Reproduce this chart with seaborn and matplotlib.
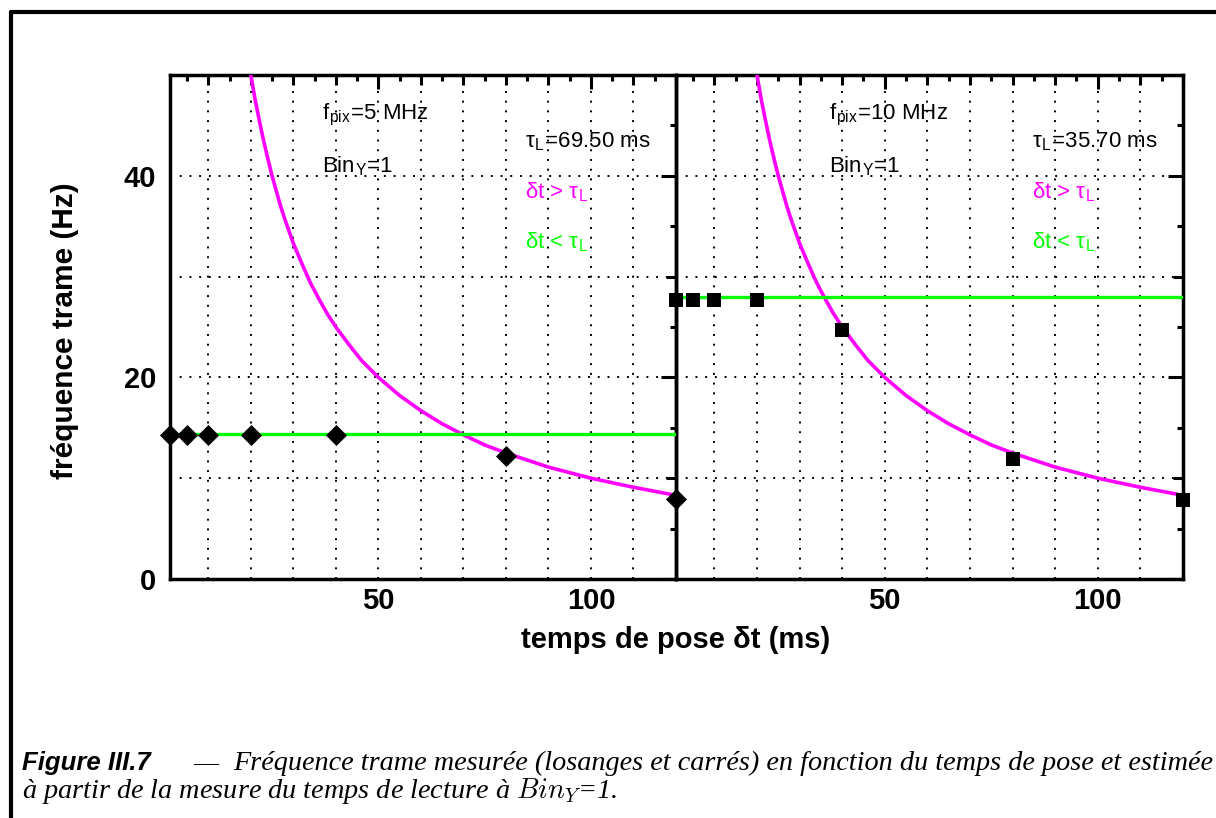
import matplotlib
matplotlib.use("Agg")
import matplotlib.pyplot as plt
from matplotlib.ticker import MultipleLocator, FuncFormatter
from matplotlib.lines import Line2D
import pandas as pd
import seaborn as sns

pose_ms = [1, 5, 10, 20, 40, 80, 120]
freq_5mhz = [14.3, 14.3, 14.3, 14.3, 14.3, 12.2, 7.9]    # diamonds
freq_10mhz = [27.7, 27.7, 27.7, 27.7, 24.7, 11.9, 7.8]   # squares

# Estimated rate for dt > tau_L (magenta curve).
curve_ms = [20, 21, 22, 23, 24, 25, 26, 27, 28, 30, 32, 34, 36, 38, 40, 43, 46, 50,
            55, 60, 65, 70, 75, 80, 90, 100, 110, 120]
curve_hz = [50.0, 47.6, 45.5, 43.5, 41.7, 40.0, 38.5, 37.0, 35.7, 33.3, 31.3, 29.4, 27.8,
            26.3, 25.0, 23.3, 21.7, 20.0, 18.2, 16.7, 15.4, 14.3, 13.3, 12.5, 11.1, 10.0,
            9.1, 8.3]

# Plateau for dt < tau_L (green line).
plateau_ms = [1, 120]
plateau_5mhz = [14.4, 14.4]
plateau_10mhz = [28.0, 28.0]

fpix_labels = ["5", "10"]
tau_labels = ["69.50", "35.70"]

sns.set_theme(style="white")
plt.rcParams["font.family"] = ["Liberation Sans", "DejaVu Sans"]
plt.rcParams["mathtext.fontset"] = "cm"
for key in ["text.color", "axes.labelcolor", "xtick.color", "ytick.color", "axes.edgecolor"]:
    plt.rcParams[key] = "black"

MAGENTA = "#ff00ff"
GREEN = "#00ff00"

fig = plt.figure(figsize=(12.16, 8.18), dpi=100)
W, H = 1216, 818
bottom = 1 - 579 / H
height = (579 - 75) / H
ax1 = fig.add_axes([170 / W, bottom, (676 - 170) / W, height])
ax2 = fig.add_axes([676 / W, bottom, (1183 - 676) / W, height], sharey=ax1)

panels = [
    (ax1, freq_5mhz, plateau_5mhz, "D", 115),
    (ax2, freq_10mhz, plateau_10mhz, "s", 100),
]

for i, (ax, meas, plateau, mk, ms) in enumerate(panels):
    sns.lineplot(x=curve_ms, y=curve_hz, ax=ax, color=MAGENTA, linewidth=2.6, zorder=3)
    sns.lineplot(x=plateau_ms, y=plateau, ax=ax, color=GREEN, linewidth=2.4, zorder=3)
    df = pd.DataFrame({"pose": pose_ms, "freq": meas})
    sns.scatterplot(data=df, x="pose", y="freq", ax=ax, marker=mk, s=ms,
                    color="black", linewidth=0, zorder=5, clip_on=False)

    ax.set_xlim(1, 120)
    ax.set_ylim(0, 50)
    ax.set_xlabel("")
    ax.set_ylabel("")
    ax.xaxis.set_major_locator(MultipleLocator(10))
    ax.xaxis.set_minor_locator(MultipleLocator(5))
    ax.yaxis.set_major_locator(MultipleLocator(10))
    ax.yaxis.set_minor_locator(MultipleLocator(5))
    ax.xaxis.set_major_formatter(FuncFormatter(lambda v, p: f"{v:.0f}" if v % 50 == 0 and v > 0 else ""))
    ax.yaxis.set_major_formatter(FuncFormatter(lambda v, p: f"{v:.0f}" if v % 20 == 0 else ""))
    ax.grid(True, which="major", color="black", linestyle=(0, (1, 4)), linewidth=1.4)
    ax.tick_params(which="both", direction="in", top=True, right=True, width=2.2,
                   labelsize=21)
    ax.tick_params(axis="x", pad=6)
    ax.tick_params(axis="y", pad=10)
    ax.tick_params(which="major", length=7)
    ax.tick_params(which="minor", length=4.5)
    for lab in ax.get_xticklabels() + ax.get_yticklabels():
        lab.set_fontweight("bold")
    for sp in ax.spines.values():
        sp.set_linewidth(2.5)
        sp.set_color("black")
    for t, loc in zip(ax.xaxis.get_major_ticks(), ax.xaxis.get_majorticklocs()):
        if loc % 50 == 0:
            t.tick1line.set_markersize(10)
            t.tick2line.set_markersize(10)
    for t, loc in zip(ax.yaxis.get_major_ticks(), ax.yaxis.get_majorticklocs()):
        if loc % 20 == 0:
            t.tick1line.set_markersize(11)
            t.tick2line.set_markersize(11)

    ax.text(36.8, 46.0, r"f$_\mathregular{pix}$=" + fpix_labels[i] + " MHz", fontsize=16,
            va="center", ha="left")
    ax.text(36.8, 41.0, r"Bin$_\mathregular{Y}$=1", fontsize=16, va="center", ha="left")
    ax.text(84.5, 43.4, r"τ$_\mathregular{L}$=" + tau_labels[i] + " ms", fontsize=16,
            va="center", ha="left")
    ax.text(84.5, 38.4, r"δt > τ$_\mathregular{L}$", fontsize=16, va="center", ha="left",
            color=MAGENTA)
    ax.text(84.5, 33.4, r"δt < τ$_\mathregular{L}$", fontsize=16, va="center", ha="left",
            color=GREEN)

ax2.tick_params(labelleft=False)
ax1.set_zorder(2)
ax1.patch.set_visible(False)

fig.text(65 / W, 1 - 331 / H, "fréquence trame (Hz)", rotation=90, fontsize=21.5,
         fontweight="bold", ha="center", va="center")
fig.text(676 / W, 1 - 640 / H, "temps de pose δt (ms)", fontsize=21, fontweight="bold",
         ha="center", va="center")

# caption
fig.text(22 / W, 1 - 763 / H, "Figure III.7", fontsize=18.5, fontweight="bold",
         fontstyle="italic", ha="left", va="center")
fig.text(193 / W, 1 - 763 / H, "—", fontsize=18, family="Liberation Serif",
         ha="left", va="center")
fig.text(233 / W, 1 - 763 / H,
         "Fréquence trame mesurée (losanges et carrés) en fonction du temps de pose et estimée",
         fontsize=20.3, family="Liberation Serif", fontstyle="italic", ha="left", va="center")
fig.text(22 / W, 1 - 791 / H,
         r"à partir de la mesure du temps de lecture à $Bin_Y$=1.",
         fontsize=20.3, family="Liberation Serif", fontstyle="italic", ha="left", va="center")

# page frame (cropped)
fig.add_artist(Line2D([11 / W, 1.0], [1 - 12 / H, 1 - 12 / H], color="black", linewidth=3))
fig.add_artist(Line2D([11 / W, 11 / W], [0.0, 1 - 12 / H], color="black", linewidth=3))

fig.savefig("out.png", dpi=100)
